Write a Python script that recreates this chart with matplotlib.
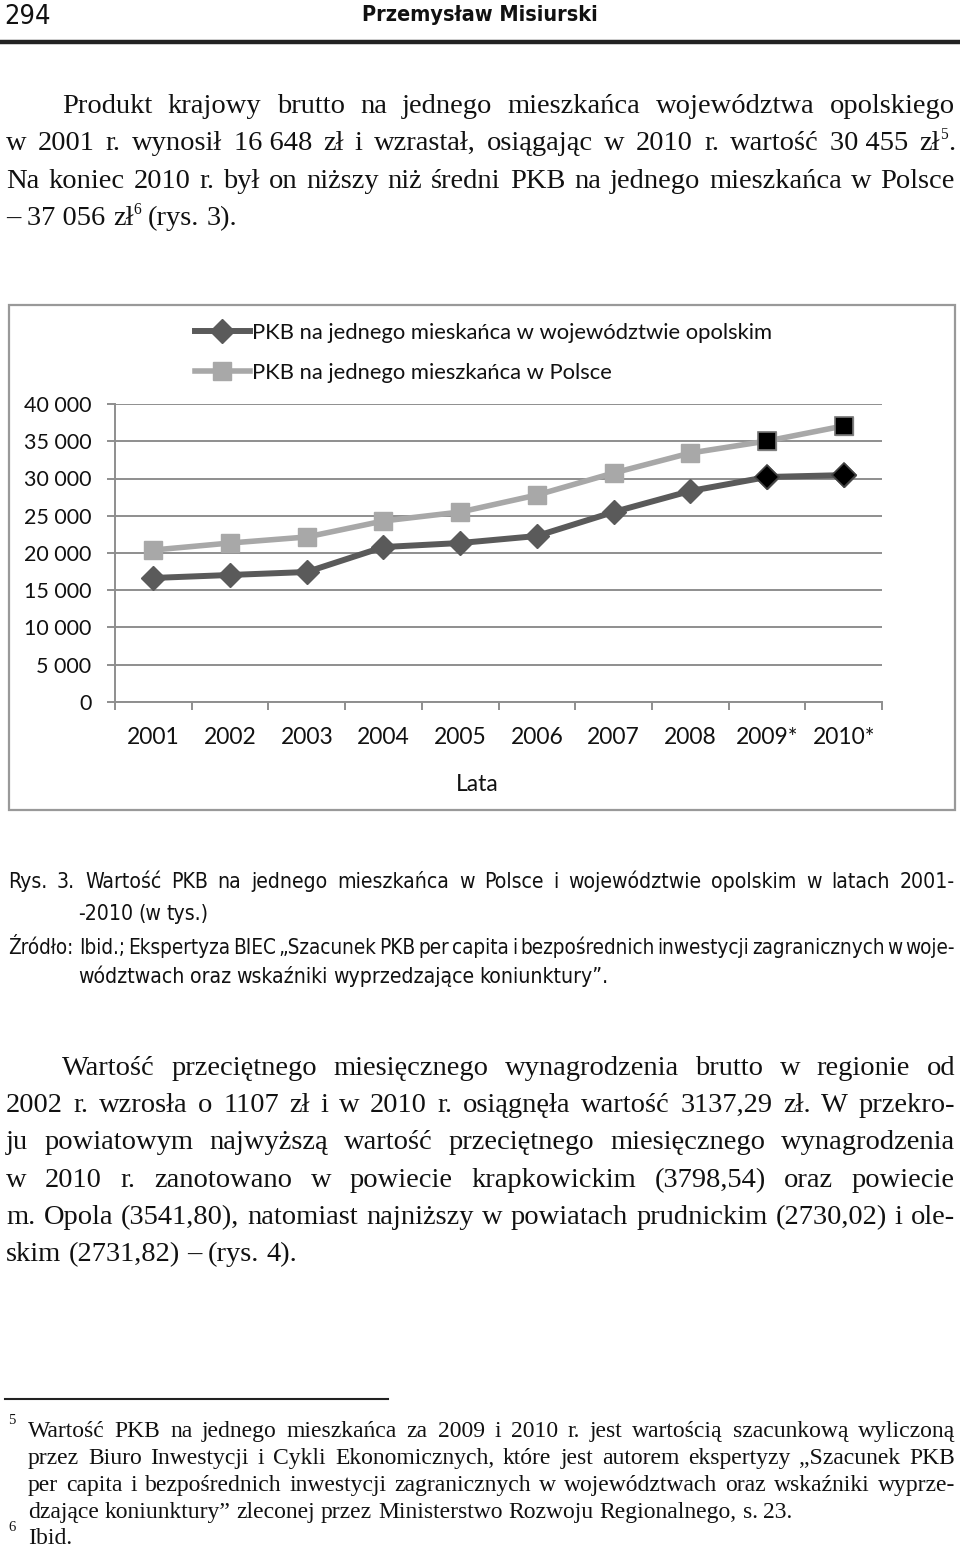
import matplotlib
matplotlib.use("Agg")
import matplotlib.pyplot as plt
import matplotlib.font_manager as fm
from matplotlib.patches import Rectangle
from matplotlib.lines import Line2D

# ---------------- data ----------------
years = ["2001", "2002", "2003", "2004", "2005", "2006", "2007", "2008", "2009*", "2010*"]
pkb_opolskie = [16648, 17050, 17450, 20800, 21340, 22280, 25500, 28320, 30200, 30455]
pkb_polska = [20400, 21340, 22150, 24300, 25500, 27780, 30740, 33420, 35030, 37056]
estimated_from = 8  # 2009*, 2010* are estimates (black markers)
y_ticks = [0, 5000, 10000, 15000, 20000, 25000, 30000, 35000, 40000]
y_tick_labels = ["0", "5 000", "10 000", "15 000", "20 000", "25 000", "30 000", "35 000", "40 000"]
legend_labels = ["PKB na jednego mieskańca w województwie opolskim",
                 "PKB na jednego mieszkańca w Polsce"]
x_title = "Lata"

W, H = 960, 1547
fig = plt.figure(figsize=(W / 100, H / 100), dpi=100)
renderer = fig.canvas.get_renderer()


def fx(x):
    return x / W


def fy(y):
    return 1 - y / H


def have(name):
    try:
        fm.findfont(fm.FontProperties(family=name), fallback_to_default=False)
        return True
    except Exception:
        return False


def find_narrow(bold=False):
    cands = []
    for f in fm.fontManager.ttflist:
        n = (f.fname + " " + f.name).lower()
        if ("narrow" in n or "condensed" in n) and "italic" not in n and "oblique" not in n:
            isbold = ("bold" in n) or (f.weight in ("bold", 700))
            if isbold == bold:
                cands.append(f.fname)
    cands.sort(key=lambda p: (0 if "liberation" in p.lower() else 1 if "dejavusans" in p.lower().replace("-", "") else 2, p))
    return cands[0] if cands else None


SERIF = "Liberation Serif"
CHART = "Lato" if have("Lato") else "DejaVu Sans"
_nr = find_narrow(False)
_nb = find_narrow(True)
NARROW_KW = dict(fontproperties=fm.FontProperties(fname=_nr)) if _nr else dict(family="Liberation Sans")
NARROWB_KW = (dict(fontproperties=fm.FontProperties(fname=_nb)) if _nb
              else dict(family="Liberation Sans", fontweight="bold"))
IS_NARROW = _nr is not None
TXT = "#111111"


def make_word(w, kw):
    parts = w.split("^")
    items = []
    for i, p in enumerate(parts):
        if not p:
            continue
        sup = (i % 2 == 1)
        k = dict(kw)
        if sup:
            k["fontsize"] = kw["fontsize"] * 0.55
        o = fig.text(0, 0, p, ha="left", va="baseline", color=TXT, **k)
        items.append((o, sup, o.get_window_extent(renderer).width))
    return items


def place_word(items, x, ybase, fs):
    for o, sup, w in items:
        dy = fs * 100 / 72 * 0.38 if sup else 0
        o.set_position((fx(x), fy(ybase - dy)))
        x += w
    return x


def put_line(text, x0, x1, ybase, justify=True, min_gap=4.0, **kw):
    kw = dict(kw)
    words = text.split(" ")
    for _ in range(2):
        items = [make_word(w, kw) for w in words]
        widths = [sum(i[2] for i in it) for it in items]
        nat = sum(widths)
        if not justify:
            break
        gap = (x1 - x0 - nat) / max(len(words) - 1, 1)
        if gap >= min_gap:
            break
        for it in items:
            for o, _, _ in it:
                o.remove()
        kw["fontsize"] = kw["fontsize"] * (x1 - x0 - min_gap * (len(words) - 1)) / nat
    space = kw["fontsize"] * 100 / 72 * 0.25
    if justify:
        gap = (x1 - x0 - nat) / max(len(words) - 1, 1)
    else:
        gap = space
    x = x0
    for it, w in zip(items, widths):
        place_word(it, x, ybase, kw["fontsize"])
        x += w + gap


NB = "\u00a0"

# ---------------- header ----------------
fig.text(fx(4), fy(24), "294", fontsize=19.5 if IS_NARROW else 19, ha="left", va="baseline",
         color=TXT, **NARROW_KW)
fig.text(fx(480), fy(21), "Przemysław Misiurski", fontsize=15.5,
         ha="center", va="baseline", color=TXT, **NARROWB_KW)
fig.add_artist(Line2D([fx(2), fx(958)], [fy(42), fy(42)], color="#222222", lw=3.2))

# ---------------- paragraph 1 ----------------
bf = dict(family=SERIF, fontsize=20.5)
put_line("Produkt krajowy brutto na jednego mieszkańca województwa opolskiego", 62, 955, 113, **bf)
put_line(f"w 2001 r. wynosił 16{NB}648 zł i wzrastał, osiągając w 2010 r. wartość 30{NB}455 zł^5^.",
         6, 955, 150, **bf)
put_line("Na koniec 2010 r. był on niższy niż średni PKB na jednego mieszkańca w Polsce", 6, 955, 188, **bf)
put_line(f"– 37{NB}056 zł^6^ (rys. 3).", 6, 955, 225, justify=False, **bf)

# ---------------- chart frame ----------------
fig.add_artist(Rectangle((fx(9), fy(810)), fx(955) - fx(9), fy(305) - fy(810),
                         transform=fig.transFigure, fill=False, edgecolor="#999999", lw=1.6))

ax = fig.add_axes([fx(115), fy(702), fx(882) - fx(115), fy(404) - fy(702)])
xs = list(range(len(years)))
DARK = "#5a5a5a"
LIGHT = "#a8a8a8"
GRID = "#8e8e8e"
l1, = ax.plot(xs, pkb_opolskie, color=DARK, lw=4.3, marker="D", ms=12, mfc=DARK, mec=DARK,
              label=legend_labels[0], zorder=4, solid_joinstyle="round")
l2, = ax.plot(xs, pkb_polska, color=LIGHT, lw=4.0, marker="s", ms=13.5, mfc=LIGHT, mec=LIGHT,
              label=legend_labels[1], zorder=3)
ax.plot(xs[estimated_from:], pkb_opolskie[estimated_from:], ls="none", marker="D", ms=12,
        mfc="black", mec="#444444", mew=1.2, zorder=5)
ax.plot(xs[estimated_from:], pkb_polska[estimated_from:], ls="none", marker="s", ms=13.5,
        mfc="black", mec="#777777", mew=1.2, zorder=5)

ax.set_xlim(-0.5, len(years) - 0.5)
ax.set_ylim(0, 40000)
ax.set_facecolor("none")
for s in ["top", "right"]:
    ax.spines[s].set_visible(False)
for s in ["left", "bottom"]:
    ax.spines[s].set_color(GRID)
    ax.spines[s].set_linewidth(1.4)
ax.set_yticks(y_ticks)
ax.set_yticklabels(y_tick_labels)
ax.yaxis.grid(True, color=GRID, lw=1.4)
ax.set_axisbelow(True)
ax.set_xticks([i - 0.5 for i in range(len(years) + 1)])
ax.set_xticklabels([])
ax.set_xticks(xs, minor=True)
ax.set_xticklabels(years, minor=True)
ax.tick_params(axis="x", which="major", length=6, width=1.4, color=GRID, direction="out")
ax.tick_params(axis="x", which="minor", length=0, pad=18, labelsize=16.5, labelcolor=TXT)
ax.tick_params(axis="y", length=6, width=1.4, color=GRID, direction="out", pad=11,
               labelsize=15.5, labelcolor=TXT)
for lab in ax.get_xticklabels(minor=True) + ax.get_yticklabels():
    lab.set_family(CHART)

fig.text(fx(477), fy(791), x_title, family=CHART, fontsize=16.5, ha="center", va="baseline", color=TXT)

fig.legend(handles=[l1, l2], loc="center left", bbox_to_anchor=(fx(184), fy(353)),
           frameon=False, borderpad=0, handlelength=2.5, handletextpad=0.12, labelspacing=0.9,
           prop=fm.FontProperties(family=CHART, size=15.8), labelcolor=TXT)

# ---------------- caption ----------------
cf = dict(NARROW_KW)
cf["fontsize"] = 15.2 if IS_NARROW else 14.5
put_line("Rys. 3. Wartość PKB na jednego mieszkańca w Polsce i województwie opolskim w latach 2001-",
         8, 955, 888, min_gap=2.5, **cf)
put_line("-2010 (w tys.)", 78, 955, 920, justify=False, **cf)
put_line("Źródło:  Ibid.; Ekspertyza BIEC „Szacunek PKB per capita i bezpośrednich inwestycji zagranicznych w woje-",
         8, 955, 954, min_gap=2.5, **cf)
put_line("wództwach oraz wskaźniki wyprzedzające koniunktury”.", 78, 955, 983, justify=False, **cf)

# ---------------- paragraph 2 ----------------
put_line("Wartość przeciętnego miesięcznego wynagrodzenia brutto w regionie od", 62, 955, 1075, **bf)
put_line("2002 r. wzrosła o 1107 zł i w 2010 r. osiągnęła wartość 3137,29 zł. W przekro-", 6, 955, 1112, **bf)
put_line("ju powiatowym najwyższą wartość przeciętnego miesięcznego wynagrodzenia", 6, 955, 1149, **bf)
put_line("w 2010 r. zanotowano w powiecie krapkowickim (3798,54) oraz powiecie", 6, 955, 1187, **bf)
put_line("m. Opola (3541,80), natomiast najniższy w powiatach prudnickim (2730,02) i ole-", 6, 955, 1224, **bf)
put_line("skim (2731,82) – (rys. 4).", 6, 955, 1261, justify=False, **bf)

# ---------------- footnotes ----------------
fig.add_artist(Line2D([fx(5), fx(388)], [fy(1399), fy(1399)], color="#222222", lw=1.5))
ff = dict(family=SERIF, fontsize=17)
fig.text(fx(8), fy(1424), "5", family=SERIF, fontsize=10.5, ha="left", va="baseline", color=TXT)
put_line("Wartość PKB na jednego mieszkańca za 2009 i 2010 r. jest wartością szacunkową wyliczoną",
         28, 955, 1437, **ff)
put_line("przez Biuro Inwestycji i Cykli Ekonomicznych, które jest autorem ekspertyzy „Szacunek PKB",
         28, 955, 1464, **ff)
put_line("per capita i bezpośrednich inwestycji zagranicznych w województwach oraz wskaźniki wyprze-",
         28, 955, 1491, **ff)
put_line("dzające koniunktury” zleconej przez Ministerstwo Rozwoju Regionalnego, s. 23.",
         28, 955, 1518, justify=False, **ff)
fig.text(fx(8), fy(1531), "6", family=SERIF, fontsize=10.5, ha="left", va="baseline", color=TXT)
put_line("Ibid.", 28, 955, 1544, justify=False, **ff)

fig.savefig("out.png", dpi=100, facecolor="white")
